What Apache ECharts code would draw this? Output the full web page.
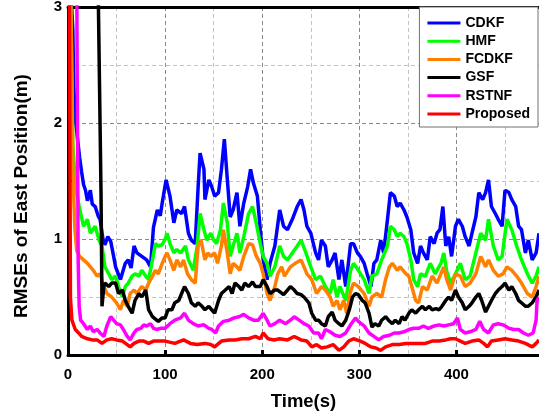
<!DOCTYPE html>
<html>
<head>
<meta charset="utf-8">
<script src="https://cdn.jsdelivr.net/npm/echarts@6/dist/echarts.min.js"></script>
<style>
html,body{margin:0;padding:0;background:#fff;}
#chart{width:539px;height:412px;}
</style>
</head>
<body>
<div id="chart"></div>
<script>
// ---- Data ----
var seriesNames = ['CDKF', 'HMF', 'FCDKF', 'GSF', 'RSTNF', 'Proposed'];
var xTickLabels = ['0', '100', '200', '300', '400'];
var yTickLabels = ['0', '1', '2', '3'];

var timeCDKF = [0,5,6,8,10,12,14,16,18,20,23,25,28,31,33,36,38,41,44,47,49,54,59,62,65,68,71,76,81,85,88,92,95,97,101,105,109,112,117,120,124,127,131,134,136,140,141,145,148,151,155,158,161,163,167,170,174,177,181,185,188,191,195,198,201,205,208,213,218,222,226,231,236,240,243,246,250,255,258,261,265,268,272,275,279,282,286,291,294,298,301,305,308,312,315,318,322,325,329,332,336,339,342,346,349,353,356,360,363,366,370,373,377,380,383,386,389,392,395,399,402,406,409,413,416,420,423,427,430,433,436,440,443,447,450,454,457,461,464,467,471,474,478,482,485];
var rmseCDKF = [3.6,2.8,2.3,2.0,1.85,1.7,1.58,1.47,1.42,1.33,1.42,1.3,1.28,1.2,1.17,1.0,0.95,1.02,0.98,0.85,0.76,0.65,0.79,0.82,0.75,0.94,0.88,0.85,0.82,0.76,1.1,1.25,1.2,1.31,1.51,1.37,1.14,1.25,1.22,1.28,1.05,0.99,0.96,1.45,1.74,1.6,1.34,1.51,1.45,1.37,1.4,1.6,1.86,1.63,1.19,1.25,1.4,1.11,1.31,1.45,1.6,1.48,1.37,1.08,0.82,0.65,0.79,0.94,1.25,1.11,1.08,1.17,1.28,1.34,1.25,1.11,1.05,0.88,0.82,0.99,0.94,0.76,0.82,0.88,0.65,0.82,0.59,0.96,0.96,0.88,0.85,0.79,0.70,0.59,0.79,0.82,0.99,0.88,1.17,1.40,1.37,1.28,1.31,1.25,1.19,1.08,0.88,0.79,0.94,0.88,0.82,1.02,0.96,1.05,1.08,1.28,0.94,1.02,0.85,1.11,1.17,1.11,1.02,0.94,1.05,1.19,1.40,1.34,1.40,1.51,1.28,1.22,1.17,1.11,1.42,1.40,1.34,1.28,1.11,1.08,0.88,0.99,0.82,0.88,1.05];

var timeHMF = [0,3,5,7,9,11,13,16,20,23,28,32,35,38,42,45,49,52,56,59,62,66,69,73,76,80,83,87,90,93,97,100,102,105,109,112,116,121,124,129,133,136,140,143,147,150,153,157,160,164,167,170,174,177,181,186,190,193,198,201,205,208,213,218,222,226,231,236,240,245,250,255,260,265,270,273,277,280,286,291,294,299,305,310,313,318,323,329,332,336,339,342,346,349,353,356,360,363,368,373,378,384,387,390,394,399,404,409,414,420,425,430,433,438,443,447,452,457,462,467,473,478,482,485];
var rmseHMF = [3.6,3.0,1.8,1.55,1.4,1.3,1.22,1.11,1.17,1.05,1.11,0.99,0.94,0.76,0.70,0.65,0.68,0.59,0.50,0.59,0.62,0.68,0.70,0.68,0.73,0.68,0.65,0.82,0.96,0.94,0.95,1.0,1.05,0.96,0.88,0.91,0.88,0.94,0.82,0.73,0.94,1.22,1.08,0.99,1.05,0.99,0.96,1.08,1.31,1.14,0.85,0.94,1.05,0.88,1.02,1.22,1.28,1.17,0.96,0.85,0.79,0.68,0.76,0.94,0.85,0.82,0.88,0.94,0.99,0.88,0.76,0.65,0.68,0.59,0.53,0.65,0.50,0.59,0.47,0.73,0.79,0.73,0.65,0.53,0.68,0.70,0.82,0.94,1.11,1.08,1.02,1.05,1.02,0.96,0.82,0.65,0.59,0.70,0.68,0.79,0.70,0.79,0.88,0.72,0.62,0.70,0.79,0.65,0.68,0.88,1.05,0.99,1.17,0.94,0.82,0.85,1.17,1.08,0.94,0.82,0.70,0.62,0.68,0.76];

var timeFCDKF = [0,3,5,7,9,12,16,20,23,26,30,33,37,40,45,50,54,57,61,64,68,71,76,80,83,87,90,93,97,100,102,105,109,112,116,119,123,127,131,134,137,141,144,147,151,154,158,160,164,167,170,174,177,181,186,190,194,198,201,205,208,213,216,220,223,229,234,240,243,246,251,256,261,265,270,273,277,280,284,287,291,294,299,305,310,313,318,323,327,331,334,339,342,348,351,354,358,361,365,370,375,380,383,387,390,394,399,404,409,414,420,425,430,433,438,443,448,452,457,462,467,473,478,482,485];
var rmseFCDKF = [3.6,3.0,1.6,1.1,0.9,0.85,0.82,0.79,0.76,0.73,0.68,0.70,0.59,0.53,0.50,0.45,0.39,0.47,0.42,0.53,0.56,0.53,0.59,0.56,0.62,0.68,0.73,0.70,0.79,0.85,0.88,0.82,0.73,0.82,0.76,0.82,0.70,0.65,0.62,0.94,0.99,0.82,0.88,0.85,0.88,0.79,0.94,1.08,0.88,0.70,0.79,0.76,0.73,0.85,0.96,0.95,0.85,0.79,0.70,0.53,0.47,0.59,0.70,0.76,0.68,0.76,0.79,0.82,0.76,0.70,0.65,0.53,0.59,0.56,0.50,0.42,0.47,0.39,0.47,0.36,0.55,0.62,0.59,0.53,0.42,0.50,0.53,0.50,0.65,0.76,0.79,0.73,0.76,0.70,0.68,0.59,0.47,0.45,0.59,0.56,0.68,0.62,0.68,0.76,0.65,0.56,0.70,0.68,0.59,0.62,0.70,0.85,0.76,0.82,0.73,0.68,0.70,0.76,0.73,0.68,0.62,0.53,0.50,0.59,0.68];

var timeGSF = [0,31,34,35,37,38,42,45,49,52,56,59,62,66,69,73,76,80,83,87,90,93,97,100,103,107,110,114,117,120,124,127,131,134,138,141,145,148,151,155,158,162,166,169,172,176,179,182,186,190,193,198,201,205,208,213,216,222,226,229,233,236,240,243,248,251,255,258,261,265,268,272,275,279,282,286,290,293,296,299,303,306,310,313,316,320,323,327,330,334,337,341,344,347,351,354,358,361,365,368,372,375,379,382,385,389,392,395,399,402,406,409,413,416,420,423,426,430,433,436,440,443,447,450,454,457,461,464,467,471,474,478,482,485];
var rmseGSF = [5,3.2,1.4,0.42,0.6,0.62,0.59,0.62,0.62,0.53,0.56,0.47,0.42,0.36,0.47,0.53,0.50,0.56,0.39,0.33,0.31,0.29,0.32,0.32,0.39,0.39,0.45,0.47,0.53,0.59,0.53,0.45,0.42,0.45,0.42,0.39,0.42,0.39,0.36,0.47,0.53,0.56,0.59,0.53,0.62,0.59,0.56,0.62,0.59,0.63,0.59,0.59,0.65,0.59,0.53,0.56,0.56,0.52,0.56,0.59,0.56,0.53,0.52,0.50,0.45,0.36,0.30,0.30,0.27,0.25,0.33,0.37,0.30,0.27,0.25,0.30,0.40,0.50,0.53,0.52,0.47,0.45,0.36,0.24,0.27,0.25,0.30,0.33,0.30,0.27,0.30,0.27,0.33,0.30,0.36,0.39,0.36,0.39,0.42,0.39,0.42,0.39,0.40,0.39,0.42,0.47,0.50,0.47,0.56,0.50,0.45,0.39,0.42,0.45,0.50,0.53,0.47,0.37,0.42,0.47,0.53,0.56,0.59,0.62,0.56,0.59,0.53,0.47,0.45,0.42,0.42,0.45,0.50,0.56];

var timeRSTNF = [0,9,10.5,11.5,13,16,20,23,26,30,33,37,40,44,47,50,54,57,61,64,68,71,75,78,81,85,88,92,95,100,105,110,116,120,124,129,134,140,145,148,152,155,160,166,171,176,181,186,191,196,201,205,208,213,218,224,229,233,238,243,248,253,258,261,265,270,275,280,286,291,296,299,305,310,315,320,325,331,336,341,346,351,356,361,366,371,377,382,387,392,397,401,404,409,414,420,424,428,433,438,443,448,454,459,464,469,474,479,482,483,485];
var rmseRSTNF = [4,3.2,0.8,0.42,0.30,0.27,0.22,0.25,0.20,0.22,0.19,0.16,0.25,0.33,0.30,0.27,0.26,0.22,0.16,0.13,0.19,0.22,0.23,0.26,0.25,0.27,0.23,0.22,0.23,0.23,0.27,0.30,0.32,0.36,0.30,0.27,0.25,0.26,0.23,0.22,0.19,0.25,0.29,0.30,0.32,0.33,0.35,0.32,0.30,0.30,0.36,0.30,0.25,0.27,0.30,0.27,0.30,0.33,0.30,0.27,0.25,0.19,0.19,0.14,0.22,0.20,0.17,0.16,0.19,0.26,0.32,0.29,0.25,0.19,0.16,0.13,0.16,0.17,0.19,0.19,0.20,0.22,0.23,0.23,0.25,0.23,0.25,0.26,0.25,0.26,0.27,0.32,0.22,0.19,0.20,0.22,0.29,0.22,0.19,0.26,0.27,0.26,0.23,0.22,0.22,0.19,0.17,0.19,0.30,0.47,0.50];

var timeProposed = [0,1.5,2.5,4,7.5,11,14,20,25,30,35,40,45,50,56,61,64,68,73,78,83,88,93,100,110,119,126,133,141,147,151,158,166,172,179,186,193,198,201,206,212,218,226,233,240,246,251,256,261,267,273,279,284,289,294,301,306,312,317,322,327,334,341,348,354,361,368,375,382,389,394,399,404,409,416,423,428,432,436,443,450,457,464,471,478,482,485];
var rmseProposed = [4,3.0,0.5,0.30,0.22,0.19,0.16,0.14,0.13,0.13,0.10,0.13,0.14,0.13,0.12,0.09,0.07,0.10,0.12,0.12,0.10,0.12,0.12,0.12,0.10,0.13,0.10,0.09,0.10,0.09,0.07,0.12,0.13,0.13,0.14,0.14,0.16,0.14,0.19,0.14,0.13,0.14,0.13,0.16,0.13,0.12,0.07,0.09,0.06,0.07,0.09,0.04,0.07,0.12,0.14,0.12,0.10,0.07,0.06,0.04,0.07,0.09,0.09,0.10,0.10,0.10,0.10,0.12,0.12,0.13,0.14,0.14,0.12,0.10,0.12,0.13,0.10,0.07,0.12,0.13,0.14,0.13,0.12,0.10,0.07,0.10,0.13];

// ---- Build chart ----
var colors = ['#0000ff', '#00ff00', '#ff8000', '#000000', '#ff00ff', '#ff0000'];
var times = [timeCDKF, timeHMF, timeFCDKF, timeGSF, timeRSTNF, timeProposed];
var values = [rmseCDKF, rmseHMF, rmseFCDKF, rmseGSF, rmseRSTNF, rmseProposed];

function zip(t, v) { var out = []; for (var i = 0; i < t.length; i++) out.push([t[i], v[i]]); return out; }

var font = '"Liberation Sans", Arial, sans-serif';
var chart = echarts.init(document.getElementById('chart'), null, {renderer: 'canvas'});

var series = seriesNames.map(function (name, i) {
  return {
    name: name, type: 'line', xAxisIndex: 0, yAxisIndex: 0,
    data: zip(times[i], values[i]),
    showSymbol: false, symbol: 'none',
    lineStyle: {color: colors[i], width: 3.5},
    itemStyle: {color: colors[i]},
    clip: true, z: 3
  };
});

var option = {
  animation: false,
  backgroundColor: '#ffffff',
  grid: {left: 68, right: 0, top: 7, bottom: 57, containLabel: false, outerBoundsMode: 'none'},
  legend: {
    show: true, orient: 'vertical', right: 1, top: 7,
    data: seriesNames, icon: 'rect', itemWidth: 33, itemHeight: 3, itemGap: 2.2,
    padding: [8, 8, 5, 8],
    backgroundColor: '#ffffff', borderColor: '#707070', borderWidth: 1,
    textStyle: {fontFamily: font, fontWeight: 'bold', fontSize: 14, color: '#000', lineHeight: 16}
  },
  xAxis: [{
    type: 'value', position: 'bottom', min: 0, max: 485, interval: 100,
    name: 'Time(s)', nameLocation: 'middle', nameGap: 37,
    nameTextStyle: {fontFamily: font, fontWeight: 'bold', fontSize: 18.5, color: '#000'},
    axisLine: {show: true, onZero: false, lineStyle: {color: '#000', width: 3}},
    axisTick: {show: true, inside: true, length: 5, lineStyle: {color: '#000', width: 3}},
    axisLabel: {
      show: true, margin: 12, showMaxLabel: false,
      fontFamily: font, fontWeight: 'bold', fontSize: 15, color: '#000',
      formatter: function (v) { var s = String(v); return xTickLabels.indexOf(s) >= 0 ? s : ''; }
    },
    splitLine: {show: false}
  }, {
    type: 'value', position: 'top', min: 0, max: 485, interval: 50,
    axisLine: {show: true, onZero: false, lineStyle: {color: '#000', width: 3}},
    axisTick: {show: false}, axisLabel: {show: false},
    splitLine: {show: true, lineStyle: {color: ['#8a8a8a', '#c4c4c4'], type: [4, 3], width: 1}}
  }],
  yAxis: [{
    type: 'value', min: 0, max: 3, interval: 0.5,
    name: 'RMSEs of East Position(m)', nameLocation: 'middle', nameGap: 37,
    nameTextStyle: {fontFamily: font, fontWeight: 'bold', fontSize: 19, color: '#000', padding: [0, 30, 0, 0]},
    axisLine: {show: true, onZero: false, lineStyle: {color: '#000', width: 3}},
    axisTick: {show: true, inside: true, length: 4, lineStyle: {color: '#000', width: 2}},
    axisLabel: {
      show: true, margin: 6,
      fontFamily: font, fontWeight: 'bold', fontSize: 15, color: '#000',
      formatter: function (v) { var s = String(v); return yTickLabels.indexOf(s) >= 0 ? s : ''; }
    },
    splitLine: {show: true, lineStyle: {color: ['#8a8a8a', '#c4c4c4'], type: [4, 3], width: 1}}
  }],
  series: series
};
chart.setOption(option);
</script>
</body>
</html>
